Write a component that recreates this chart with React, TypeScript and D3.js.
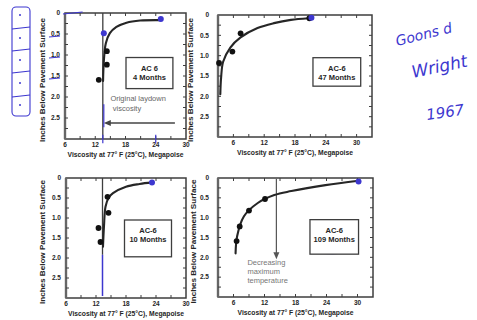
import React from "react";
import * as d3 from "d3";

const W = 477;
const H = 320;

// axis ticks
const xTickValues = [6, 12, 18, 24, 30];
const xMinorValues = [6, 9, 12, 15, 18, 21, 24, 27, 30];
const yTickValues = [0, 0.5, 1, 1.5, 2, 2.5];
const yTickLabels = ["0", "0.5", "1.0", "1.5", "2.0", "2.5"];
const yMinorValues = [0.25, 0.5, 0.75, 1, 1.25, 1.5, 1.75, 2, 2.25, 2.5, 2.75];

const xTitle = "Viscosity at 77° F (25°C), Megapoise";
const yTitle = "Inches Below Pavement Surface";

// AC 6, 4 months
const m4PointX = [12.7, 14.3, 14.3];
const m4PointY = [1.59, 1.23, 0.91];
const m4BlueX = [13.7, 25];
const m4BlueY = [0.48, 0.14];
const m4CurveX = [13.55, 13.7, 14.1, 14.9, 16.2, 18.2, 20.9, 24.8];
const m4CurveY = [1.62, 1.15, 0.72, 0.48, 0.33, 0.23, 0.18, 0.17];
const laydown = 13.5;

// AC-6, 47 months
const m47PointX = [3.2, 5.8, 7.4, 20.8];
const m47PointY = [1.18, 0.9, 0.45, 0.08];
const m47BlueX = [21.2];
const m47BlueY = [0.07];
const m47CurveX = [3.45, 3.6, 4.0, 5.4, 7.4, 10.7, 13.9, 17.2, 20.6];
const m47CurveY = [1.95, 1.55, 1.15, 0.8, 0.55, 0.32, 0.2, 0.12, 0.08];

// AC-6, 10 months
const m10PointX = [12.5, 12.9, 14.3, 14.5];
const m10PointY = [1.25, 1.6, 0.47, 0.87];
const m10BlueX = [23.2];
const m10BlueY = [0.11];
const m10CurveX = [13.4, 13.6, 13.9, 14.5, 15.4, 18, 20.7, 23.2];
const m10CurveY = [1.72, 1.2, 0.72, 0.5, 0.38, 0.22, 0.15, 0.11];

// AC-6, 109 months
const m109PointX = [6.6, 7.2, 9.0, 12.1];
const m109PointY = [1.59, 1.22, 0.82, 0.53];
const m109BlueX = [30.2];
const m109BlueY = [0.09];
const m109CurveX = [6.4, 6.7, 8.0, 10.7, 13.9, 17.2, 23.8, 30.2];
const m109CurveY = [1.9, 1.47, 0.97, 0.63, 0.43, 0.33, 0.18, 0.07];

const FONT = "'Liberation Sans', Arial, sans-serif";
const BLUE = "#3d37cf";
const INK = "#262626";
const FRAME = "#3e3e3e";

type PanelProps = {
  left: number;
  right: number;
  top: number;
  bottom: number;
  xDomain: [number, number];
  px: number[];
  py: number[];
  bx: number[];
  by: number[];
  cx: number[];
  cy: number[];
  labelGap: number;
  titleX: number;
  box: { x0: number; x1: number; y0: number; y1: number; lines: string[] };
  children?: (x: d3.ScaleLinear<number, number>, y: d3.ScaleLinear<number, number>) => React.ReactNode;
};

function Panel(p: PanelProps) {
  const x = d3.scaleLinear().domain(p.xDomain).range([p.left, p.right]);
  const y = d3.scaleLinear().domain([0, 3]).range([p.top, p.bottom]);
  const line = d3
    .line<number>()
    .x((d, i) => x(p.cx[i]))
    .y((d, i) => y(p.cy[i]))
    .curve(d3.curveCatmullRom.alpha(0.5));
  const midY = (p.top + p.bottom) / 2;
  return (
    <g>
      <rect x={p.left} y={p.top} width={p.right - p.left} height={p.bottom - p.top} fill="none" stroke={FRAME} strokeWidth={1.5} />
      <line x1={p.left} x2={p.left} y1={p.top} y2={p.bottom} stroke="#666" strokeWidth={2.4} />
      {xMinorValues.filter((v) => v > p.xDomain[0] && v < p.xDomain[1]).map((v) => (
        <g key={"xt" + v}>
          <line x1={x(v)} x2={x(v)} y1={p.bottom} y2={p.bottom - 3} stroke={FRAME} />
          <line x1={x(v)} x2={x(v)} y1={p.top} y2={p.top + 3} stroke={FRAME} />
        </g>
      ))}
      {yMinorValues.map((v) => (
        <g key={"yt" + v}>
          <line x1={p.left} x2={p.left + 3} y1={y(v)} y2={y(v)} stroke={FRAME} />
          <line x1={p.right} x2={p.right - 3} y1={y(v)} y2={y(v)} stroke={FRAME} />
        </g>
      ))}
      {xTickValues.map((v) => (
        <text key={"xl" + v} x={x(v)} y={p.bottom + 7.5} fontSize={6.5} fontWeight={700} textAnchor="middle" fill={INK} fontFamily={FONT}>
          {v}
        </text>
      ))}
      {yTickValues.map((v, i) => (
        <text key={"yl" + v} x={p.left - p.labelGap} y={y(v) + 2.3} fontSize={6.5} fontWeight={700} textAnchor="end" fill={INK} fontFamily={FONT}>
          {yTickLabels[i]}
        </text>
      ))}
      <text x={(p.left + p.right) / 2} y={p.bottom + 18} fontSize={6.6} fontWeight={700} textAnchor="middle" fill={INK} fontFamily={FONT} textLength={116} lengthAdjust="spacingAndGlyphs">
        {xTitle}
      </text>
      <text transform={`translate(${p.titleX},${midY + 4}) rotate(-90)`} fontSize={6.6} fontWeight={700} textAnchor="middle" fill={INK} fontFamily={FONT} textLength={124} lengthAdjust="spacingAndGlyphs">
        {yTitle}
      </text>
      {p.children && p.children(x, y)}
      <path d={line(p.cx) || ""} fill="none" stroke={INK} strokeWidth={2.1} strokeLinecap="round" />
      {p.px.map((v, i) => (
        <circle key={"pt" + i} cx={x(v)} cy={y(p.py[i])} r={2.9} fill="#111" />
      ))}
      {p.bx.map((v, i) => (
        <circle key={"bp" + i} cx={x(v)} cy={y(p.by[i])} r={3} fill={BLUE} />
      ))}
      <rect x={x(p.box.x0)} y={y(p.box.y0)} width={x(p.box.x1) - x(p.box.x0)} height={y(p.box.y1) - y(p.box.y0)} fill="#fff" stroke={FRAME} strokeWidth={1.3} />
      {p.box.lines.map((t, i) => (
        <text key={t} x={(x(p.box.x0) + x(p.box.x1)) / 2} y={y(p.box.y0) + 13 + i * 9} fontSize={7.5} fontWeight={700} textAnchor="middle" fill={INK} fontFamily={FONT}>
          {t}
        </text>
      ))}
    </g>
  );
}

export default function App() {
  return (
    <svg width={W} height={H} style={{ position: "absolute", left: 0, top: 0, background: "#fff" }}>
      <rect width={W} height={H} fill="#fff" />

      {/* handwritten note box on the left */}
      <g stroke={BLUE} fill="none" strokeWidth={1.1}>
        <rect x={12} y={7} width={18} height={109} rx={4} />
        {[28, 50, 72, 96].map((yy) => (
          <line key={yy} x1={12} x2={30} y1={yy + 1} y2={yy - 1} />
        ))}
      </g>
      {[15, 38, 60, 83, 105].map((yy) => (
        <circle key={yy} cx={20} cy={yy} r={1} fill={BLUE} />
      ))}

      <Panel
        left={65} right={186} top={13} bottom={139} xDomain={[6, 30]}
        px={m4PointX} py={m4PointY} bx={m4BlueX} by={m4BlueY} cx={m4CurveX} cy={m4CurveY}
        labelGap={5} titleX={45}
        box={{ x0: 18.1, x1: 27.4, y0: 1.06, y1: 1.8, lines: ["AC 6", "4 Months"] }}
      >
        {(x, y) => (
          <g>
            <line x1={x(laydown)} x2={x(laydown)} y1={y(0)} y2={y(3)} stroke={FRAME} strokeWidth={1.3} />
            <line x1={x(27.8)} x2={x(laydown) + 6} y1={y(2.62)} y2={y(2.62)} stroke="#444" strokeWidth={1.5} />
            <path d={`M${x(laydown) + 1},${y(2.62)} l7,-3 l0,6 z`} fill="#444" />
            <text x={x(20.5)} y={y(2.1)} fontSize={7.5} textAnchor="middle" fill="#666" fontFamily={FONT}>Original laydown</text>
            <text x={x(18.3)} y={y(2.33)} fontSize={7.5} textAnchor="middle" fill="#666" fontFamily={FONT}>viscosity</text>
            <g stroke={BLUE} strokeWidth={1.2} fill="none">
              <line x1={x(laydown) + 1} x2={x(laydown) + 1} y1={y(2.17)} y2={y(2.72)} />
              <line x1={x(laydown)} x2={x(laydown)} y1={y(2.9)} y2={y(3.1)} />
              <line x1={x(24)} x2={x(24)} y1={y(2.9)} y2={y(3.1)} />
              <path d={`M${x(6) - 2},${y(0) + 1} L${x(9.5)},${y(0) - 1}`} />
              {[0.5, 1, 1.5].map((v) => (
                <line key={v} x1={x(6) - 16} x2={x(6) - 5} y1={y(v) + 3} y2={y(v) + 2} />
              ))}
            </g>
          </g>
        )}
      </Panel>

      <Panel
        left={218} right={372} top={15} bottom={137} xDomain={[3, 33]}
        px={m47PointX} py={m47PointY} bx={m47BlueX} by={m47BlueY} cx={m47CurveX} cy={m47CurveY}
        labelGap={9} titleX={193}
        box={{ x0: 21.5, x1: 30.8, y0: 1.05, y1: 1.75, lines: ["AC-6", "47 Months"] }}
      />

      <Panel
        left={66} right={186} top={178} bottom={298} xDomain={[6, 30]}
        px={m10PointX} py={m10PointY} bx={m10BlueX} by={m10BlueY} cx={m10CurveX} cy={m10CurveY}
        labelGap={5} titleX={45}
        box={{ x0: 17.7, x1: 27.1, y0: 1.05, y1: 1.97, lines: ["AC-6", "10 Months"] }}
      >
        {(x, y) => (
          <g>
            <line x1={x(13.3)} x2={x(13.3)} y1={y(0)} y2={y(1.92)} stroke={FRAME} strokeWidth={1.3} />
            <line x1={x(13.3)} x2={x(13.3)} y1={y(1.92)} y2={y(2.95)} stroke={BLUE} strokeWidth={1.5} />
          </g>
        )}
      </Panel>

      <Panel
        left={218} right={373} top={178} bottom={297} xDomain={[3, 33]}
        px={m109PointX} py={m109PointY} bx={m109BlueX} by={m109BlueY} cx={m109CurveX} cy={m109CurveY}
        labelGap={9} titleX={196}
        box={{ x0: 20.8, x1: 30.2, y0: 1.05, y1: 1.92, lines: ["AC-6", "109 Months"] }}
      >
        {(x, y) => (
          <g>
            <line x1={x(14.3)} x2={x(14.3)} y1={y(0.02)} y2={y(1.95)} stroke="#555" strokeWidth={1.2} />
            <path d={`M${x(14.3)},${y(2.05)} l-3,-7 l6,0 z`} fill="#555" />
            {["Decreasing", "maximum", "temperature"].map((t, i) => (
              <text key={t} x={x(8.7)} y={y(2.2) + i * 9} fontSize={7.5} fill="#777" fontFamily={FONT}>{t}</text>
            ))}
            <path d={`M${x(21.3)},${y(1.87)} Q${x(25.5)},${y(1.95)} ${x(29.5)},${y(1.86)}`} stroke={BLUE} strokeWidth={1.2} fill="none" />
          </g>
        )}
      </Panel>

      {/* handwritten reference */}
      <g fill={BLUE} fontFamily="'DejaVu Sans', sans-serif" fontStyle="italic" fontWeight={300}>
        <text transform="translate(397,46) rotate(-14)" fontSize={14}>Goons d</text>
        <text transform="translate(413,78) rotate(-12)" fontSize={17}>Wright</text>
        <text transform="translate(427,120) rotate(-8)" fontSize={15}>1967</text>
      </g>
    </svg>
  );
}
